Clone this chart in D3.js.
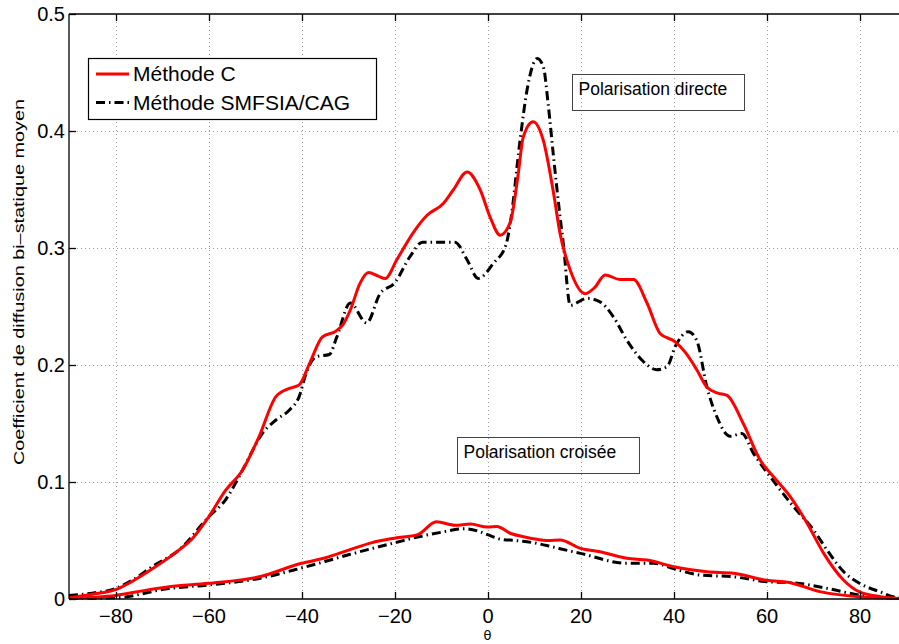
<!DOCTYPE html>
<html><head><meta charset="utf-8">
<script src="https://cdn.jsdelivr.net/npm/d3@7"></script>
<style>body{margin:0;background:#fff}svg{display:block;font-family:"Liberation Sans",Arial,sans-serif}</style>
</head><body><svg id="c" width="899" height="644"></svg>
<script>
// ---- data ----
const xTicks = [-80, -60, -40, -20, 0, 20, 40, 60, 80];
const yTicks = [0, 0.1, 0.2, 0.3, 0.4, 0.5];
const seriesNames = ["Méthode C", "Méthode SMFSIA/CAG"];

const thetaDirectC = [-90,-85,-80,-76,-72,-66.3,-63.4,-60,-56.3,-52.7,-49.1,-45.5,-42.6,-40.5,-38.3,-35.5,-32.6,-31,-29.5,-27.4,-25.6,-23.5,-22,-19.5,-16,-13,-9.5,-7.3,-4.4,-1.6,0.6,2.7,4.9,6.5,7.7,9.8,12,14.2,15.6,17.8,21,23,25.3,28.5,31.4,34.3,37.1,40.3,42.5,45,47.2,49.5,51.5,55,58.6,61.5,65.1,68.7,72.3,76.6,80,84.5,88,90];
const directC = [0.001,0.004,0.008,0.016,0.026,0.042,0.052,0.070,0.093,0.110,0.139,0.173,0.180,0.183,0.201,0.224,0.229,0.235,0.247,0.270,0.279,0.276,0.274,0.290,0.313,0.328,0.338,0.350,0.365,0.350,0.326,0.311,0.322,0.360,0.395,0.408,0.392,0.347,0.3125,0.281,0.261,0.266,0.277,0.273,0.273,0.253,0.227,0.220,0.211,0.196,0.181,0.176,0.174,0.150,0.119,0.1045,0.0875,0.065,0.039,0.016,0.006,0.002,0.0005,0];

const thetaDirectS = [-90,-85,-80,-76,-72,-66.3,-60,-56.3,-52.7,-48.4,-45.5,-42.6,-40.5,-39,-36.9,-34,-32.4,-29.5,-26,-23.1,-20,-16.6,-14,-10,-7,-4.4,-2,1.3,4,5,7,8.5,10.7,12,13.1,14.2,15.6,16.3,17.8,21.4,24.2,27.1,30,33.5,36.4,38.6,40.4,43.2,45,47.2,49.3,52.2,54.7,57.2,60.8,65.8,70.1,73,76.6,80,84.5,87.5,90];
const directS = [0.003,0.005,0.009,0.017,0.028,0.042,0.070,0.085,0.110,0.1416,0.153,0.1615,0.173,0.193,0.207,0.209,0.224,0.253,0.236,0.261,0.270,0.293,0.305,0.305,0.305,0.290,0.274,0.287,0.303,0.324,0.392,0.435,0.462,0.455,0.421,0.378,0.327,0.304,0.251,0.257,0.254,0.241,0.221,0.203,0.196,0.1985,0.216,0.2285,0.221,0.181,0.156,0.139,0.1415,0.1245,0.1045,0.079,0.059,0.042,0.0233,0.0134,0.006,0.0017,0.001];

const thetaCrossC = [-90,-80,-75.6,-68.5,-60,-49.1,-40,-35,-29.7,-25,-20,-15,-11,-7,-3.7,0,2,5,8,10.6,13,15.6,20,24.2,30,34.3,40,47.2,52.9,60,65.1,71.5,80,85,90];
const crossC = [0.0006,0.003,0.006,0.0105,0.0134,0.019,0.0305,0.035,0.042,0.048,0.052,0.055,0.066,0.063,0.064,0.0615,0.062,0.056,0.053,0.051,0.050,0.0504,0.0433,0.0404,0.0348,0.0333,0.0276,0.0233,0.022,0.016,0.0139,0.0063,0.002,0.001,0.0003];

const thetaCrossS = [-90,-80,-68.5,-60,-49.1,-40,-35,-29.7,-25,-20,-15,-10,-5,-2,0,3,6,10,13.5,15.6,20,30,35.7,40,45.7,52.9,60,65.8,73,80,85,90];
const crossS = [0.0005,0.001,0.009,0.012,0.0176,0.0265,0.032,0.038,0.043,0.048,0.053,0.057,0.060,0.058,0.055,0.051,0.050,0.048,0.045,0.043,0.039,0.0305,0.0305,0.026,0.0205,0.019,0.0148,0.0139,0.0091,0.0034,0.0012,0.0003];

// ---- chart ----
const svg = d3.select("#c");
const x = d3.scaleLinear().domain([-90, 90]).range([69, 906]);
const y = d3.scaleLinear().domain([0, 0.5]).range([599, 14]);

// grid
const grid = svg.append("g").attr("stroke", "#9a9a9a").attr("stroke-width", 1).attr("stroke-dasharray", "1,3");
grid.selectAll("line.gx").data(xTicks).join("line")
  .attr("x1", d => Math.round(x(d)) + 0.5).attr("x2", d => Math.round(x(d)) + 0.5)
  .attr("y1", y(0.5)).attr("y2", y(0));
grid.selectAll("line.gy").data(yTicks.filter(d => d > 0 && d < 0.5)).join("line")
  .attr("y1", d => Math.round(y(d)) + 0.5).attr("y2", d => Math.round(y(d)) + 0.5)
  .attr("x1", x(-90)).attr("x2", x(90));

// curves
const line = d3.line().curve(d3.curveMonotoneX).x(d => x(d[0])).y(d => y(d[1]));
const zipS = (t, v) => t.map((d, i) => [d, v[i]]);
const curves = [
  {pts: zipS(thetaDirectS, directS), s: 1},
  {pts: zipS(thetaCrossS, crossS), s: 1},
  {pts: zipS(thetaDirectC, directC), s: 0},
  {pts: zipS(thetaCrossC, crossC), s: 0}
];
const styles = [
  {stroke: "#ff0000", dash: null},
  {stroke: "#000000", dash: "9,4,1.5,4"}
];
svg.append("g").selectAll("path").data(curves).join("path")
  .attr("d", d => line(d.pts))
  .attr("fill", "none")
  .attr("stroke", d => styles[d.s].stroke)
  .attr("stroke-width", 3)
  .attr("stroke-dasharray", d => styles[d.s].dash)
  .attr("stroke-linejoin", "round");

// axes
const xAxis = d3.axisBottom(x).tickValues(xTicks).tickSize(0).tickPadding(10)
  .tickFormat(d => d < 0 ? "\u2212" + Math.abs(d) : d);
const gx = svg.append("g").attr("transform", `translate(0,${y(0)})`).call(xAxis);
gx.select(".domain").remove();
gx.selectAll("text").attr("font-size", 20).attr("font-family", "Liberation Sans, Arial, sans-serif").attr("fill", "#000");

const yAxis = d3.axisLeft(y).tickValues(yTicks).tickSize(0).tickPadding(4)
  .tickFormat(d => d === 0 ? "0" : d3.format(".1f")(d));
const gy = svg.append("g").attr("transform", `translate(${x(-90)},0)`).call(yAxis);
gy.select(".domain").remove();
gy.selectAll("text").attr("font-size", 20).attr("font-family", "Liberation Sans, Arial, sans-serif").attr("fill", "#000");

// frame lines and inward ticks
const fr = svg.append("g").attr("stroke", "#000").attr("stroke-width", 1.3);
fr.append("line").attr("x1", x(-90)).attr("x2", 899).attr("y1", y(0)).attr("y2", y(0));
fr.append("line").attr("x1", x(-90)).attr("x2", 899).attr("y1", y(0.5)).attr("y2", y(0.5));
fr.append("line").attr("x1", x(-90)).attr("x2", x(-90)).attr("y1", y(0.5)).attr("y2", y(0));
fr.selectAll("line.tb").data(xTicks).join("line")
  .attr("x1", d => Math.round(x(d)) + 0.5).attr("x2", d => Math.round(x(d)) + 0.5)
  .attr("y1", y(0)).attr("y2", y(0) - 7);
fr.selectAll("line.tt").data(xTicks).join("line")
  .attr("x1", d => Math.round(x(d)) + 0.5).attr("x2", d => Math.round(x(d)) + 0.5)
  .attr("y1", y(0.5)).attr("y2", y(0.5) + 7);
fr.selectAll("line.tl").data(yTicks).join("line")
  .attr("x1", x(-90)).attr("x2", x(-90) + 7)
  .attr("y1", d => Math.round(y(d)) + 0.5).attr("y2", d => Math.round(y(d)) + 0.5);

// axis titles
svg.append("text").attr("x", x(0)).attr("y", 640).attr("text-anchor", "middle")
  .attr("font-size", 13).attr("font-family", "DejaVu Sans, sans-serif").text("θ");
svg.append("text").attr("transform", `translate(24,282) rotate(-90)`)
  .attr("text-anchor", "middle").attr("font-size", 15)
  .attr("textLength", 366).attr("lengthAdjust", "spacingAndGlyphs")
  .text("Coefficient de diffusion bi\u2013statique moyen");

// legend
const lg = svg.append("g");
lg.append("rect").attr("x", 88.5).attr("y", 58.5).attr("width", 288).attr("height", 61)
  .attr("fill", "#fff").attr("stroke", "#000").attr("stroke-width", 1.2);
seriesNames.forEach((n, i) => {
  const yy = 74 + i * 28.5;
  lg.append("line").attr("x1", 96).attr("x2", 129).attr("y1", yy).attr("y2", yy)
    .attr("stroke", styles[i].stroke).attr("stroke-width", 3).attr("stroke-dasharray", styles[i].dash);
  lg.append("text").attr("x", 133).attr("y", yy + 7).attr("font-size", 21).text(n);
});

// annotations
const ann = [
  {t: "Polarisation directe", x0: 572.5, y0: 74.5, w: 172, h: 36},
  {t: "Polarisation croisée", x0: 457.5, y0: 437.5, w: 182, h: 36}
];
ann.forEach(a => {
  svg.append("rect").attr("x", a.x0).attr("y", a.y0).attr("width", a.w).attr("height", a.h)
    .attr("fill", "none").attr("stroke", "#444").attr("stroke-width", 1);
  svg.append("text").attr("x", a.x0 + 6).attr("y", a.y0 + 20).attr("font-size", 17.5).text(a.t);
});
</script></body></html>
